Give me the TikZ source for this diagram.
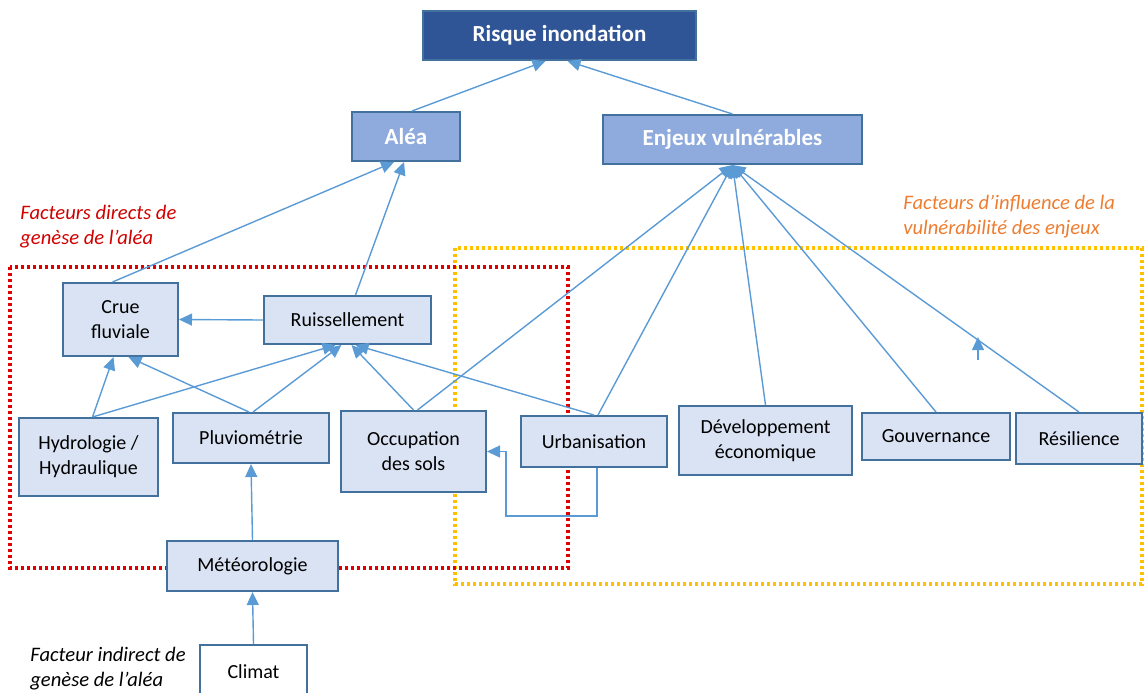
\documentclass[tikz,border=0pt]{standalone}
\usepackage{fontspec}
\setmainfont{Carlito}
\usetikzlibrary{calc, positioning, arrows.meta}
\definecolor{riskblue}{HTML}{2F5597}
\definecolor{midblue}{HTML}{8FAADC}
\definecolor{paleblue}{HTML}{DAE3F3}
\definecolor{edgeblue}{HTML}{41719C}
\definecolor{linkblue}{HTML}{5B9BD5}
\definecolor{dotred}{HTML}{E00000}
\definecolor{dotyellow}{HTML}{FFC000}
\definecolor{notered}{HTML}{D00000}
\definecolor{noteorange}{HTML}{ED7D31}

\begin{document}
\begin{tikzpicture}[x=0.5pt, y=-0.5pt,
  risk/.style={draw=edgeblue, line width=1pt, fill=riskblue, text=white, inner sep=0pt, align=center, font=\fontsize{11.5}{14}\selectfont\bfseries},
  main/.style={draw=edgeblue, line width=1pt, fill=midblue, text=white, inner sep=0pt, align=center, font=\fontsize{11.5}{14}\selectfont\bfseries},
  factor/.style={draw=edgeblue, line width=1pt, fill=paleblue, inner sep=0pt, align=center, font=\fontsize{10}{12.5}\selectfont},
  note/.style={anchor=north west, inner sep=0pt, align=left, font=\fontsize{10.3}{12.5}\selectfont\itshape},
  arr/.style={-{Triangle[length=6.5pt, width=6pt]}, linkblue, line width=0.7pt},
  zone/.style={line width=1.6pt, dash pattern=on 1.6pt off 1.4pt}
]
\useasboundingbox (0,0) rectangle (1144,692);

% zones
\draw[zone, dotyellow] (455,248) rectangle (1142,584);
\draw[zone, dotred] (10,267) rectangle (568,568);

% top
\node (risque) [risk, minimum width=136.5pt, minimum height=24.5pt] at (559.5,35.5) {Risque inondation};
\node (alea) [main, minimum width=54pt, minimum height=24.5pt] at (406,136.5) {Aléa};
\node (enjeux) [main, minimum width=129.5pt, minimum height=24.5pt] at (732.5,139.5) {Enjeux vulnérables};

% factors
\node (crue) [factor, minimum width=57.5pt, minimum height=36.5pt] at (120.5,319.5) {Crue\\fluviale};
\node (ruiss) [factor, minimum width=83.5pt, minimum height=24pt] at (347.5,320) {Ruissellement};
\node (hydro) [factor, minimum width=69.5pt, minimum height=39pt] at (88.5,457) {Hydrologie /\\Hydraulique};
\node (pluvio) [factor, minimum width=78pt, minimum height=25pt] at (251,438) {Pluviométrie};
\node (occup) [factor, minimum width=72.5pt, minimum height=40.5pt] at (413.5,451.5) {Occupation\\des sols};
\node (urba) [factor, minimum width=73pt, minimum height=25.5pt] at (594,441.5) {Urbanisation};
\node (dev) [factor, minimum width=86.5pt, minimum height=34.5pt] at (765.5,440.5) {Développement\\économique};
\node (gouv) [factor, minimum width=74pt, minimum height=23.5pt] at (936,436.5) {Gouvernance};
\node (resil) [factor, minimum width=63pt, minimum height=25.5pt] at (1079,438.5) {Résilience};
\node (meteo) [factor, minimum width=85.5pt, minimum height=25pt] at (252.5,566) {Météorologie};
\node (climat) [factor, fill=white, minimum width=53.5pt, minimum height=27pt] at (253.5,672) {Climat};

% notes
\node (n1) [note, text=notered] at (20,205) {Facteurs directs de\\genèse de l’aléa};
\node (n2) [note, text=noteorange] at (903,195) {Facteurs d’influence de la\\vulnérabilité des enjeux};
\node (n3) [note] at (30,647) {Facteur indirect de\\genèse de l’aléa};

% links
\draw[arr] ([xshift=3pt]alea.north) -- ([xshift=-7pt]risque.south);
\draw[arr] (enjeux.north) -- ([xshift=4pt]risque.south);
\draw[arr] ([xshift=-4pt]crue.north) -- ([xshift=-6pt]alea.south);
\draw[arr] ([xshift=4pt]ruiss.north) -- ([xshift=-1pt]alea.south);
\draw[arr] (ruiss.west) -- (crue.east);
\draw[arr] ([xshift=2pt]hydro.north) -- ([xshift=-3.5pt]crue.south);
\draw[arr] ([xshift=2pt]hydro.north) -- ([xshift=-6pt]ruiss.south);
\draw[arr] ([xshift=-1pt]pluvio.north) -- ([xshift=4pt]crue.south);
\draw[arr] ([xshift=1pt]pluvio.north) -- ([xshift=-3pt]ruiss.south);
\draw[arr] (occup.north) -- ([xshift=2pt]ruiss.south);
\draw[arr] ([xshift=2pt]occup.north) -- (enjeux.south);
\draw[arr] (urba.north) -- ([xshift=4pt]ruiss.south);
\draw[arr] ([xshift=2pt]urba.north) -- (enjeux.south);
\draw[arr] (dev.north) -- (enjeux.south);
\draw[arr] (gouv.north) -- (enjeux.south);
\draw[arr] (resil.north) -- (enjeux.south);
\draw[arr] ([xshift=1.5pt]urba.south) -- ++(0,48) -- ++(-91,0) |- (occup.east);
\draw[arr] (meteo.north) -- (pluvio.south);
\draw[arr] (climat.north) -- (meteo.south);
\coordinate (tickfoot) at (978,360);
\coordinate (ticktip) at (978,337);
\draw[arr] (tickfoot) -- (ticktip);
\end{tikzpicture}
\end{document}
